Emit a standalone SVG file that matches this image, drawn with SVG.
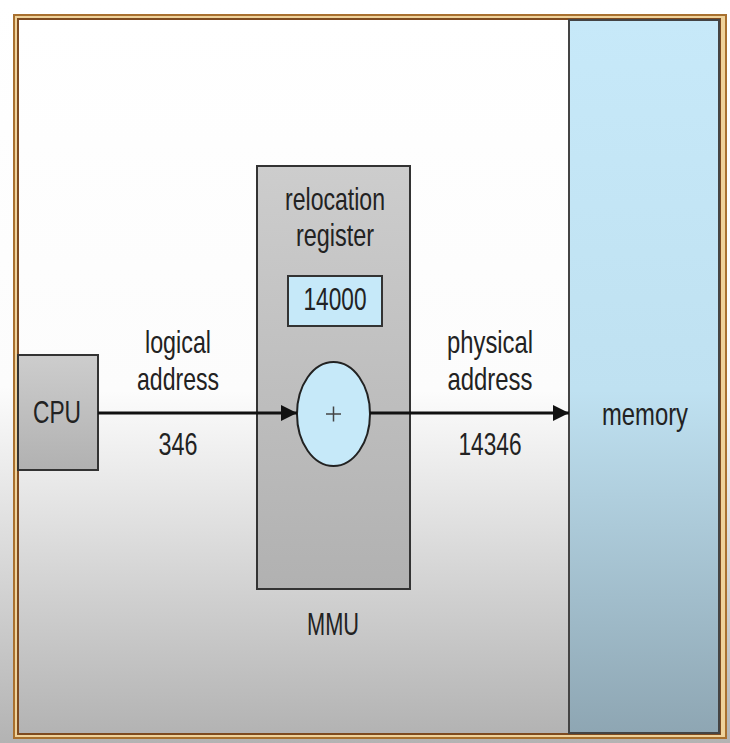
<svg xmlns="http://www.w3.org/2000/svg" width="730" height="743" viewBox="0 0 730 743">
<style>
text{font-family:"Liberation Sans",Arial,sans-serif;font-size:32px;fill:#222;text-anchor:middle}
.box{stroke:#333;stroke-width:2}
.conn{stroke:#111;stroke-width:3;fill:none}
</style>
<defs>
<linearGradient id="bg" x1="0" y1="0" x2="0" y2="1">
<stop offset="0" stop-color="#ffffff"/>
<stop offset="0.52" stop-color="#fcfcfc"/>
<stop offset="1" stop-color="#b3b3b3"/>
</linearGradient>
<linearGradient id="mem" x1="0" y1="0" x2="0" y2="1">
<stop offset="0" stop-color="#c7e9f9"/>
<stop offset="0.52" stop-color="#bfe1f1"/>
<stop offset="1" stop-color="#8ea6b3"/>
</linearGradient>
<linearGradient id="gray" x1="0" y1="0" x2="0" y2="1">
<stop offset="0" stop-color="#cdcdcd"/>
<stop offset="1" stop-color="#b1b1b1"/>
</linearGradient>
<marker id="ah" viewBox="0 0 16 16" refX="16" refY="8" markerWidth="16" markerHeight="16" markerUnits="userSpaceOnUse" orient="auto">
<path d="M0,0 L16,8 L0,16 z" fill="#111"/>
</marker>
</defs>
<rect x="0" y="0" width="730" height="743" fill="url(#bg)"/>
<g id="frame">
<rect x="13" y="14" width="714" height="725" fill="#a8702f"/>
<rect x="15" y="16" width="710" height="721" fill="#efd29a"/>
<rect x="17" y="18" width="704" height="717" fill="#7e4b20"/>
<rect x="19" y="20" width="700" height="713" fill="url(#bg)"/>
</g>
<g id="memory">
<rect x="569" y="20" width="150" height="713" fill="url(#mem)" stroke="#444" stroke-width="2"/>
<text x="645" y="425" textLength="86" lengthAdjust="spacingAndGlyphs">memory</text>
</g>
<g id="cpu">
<rect class="box" x="18" y="355" width="80" height="115" fill="url(#gray)"/>
<text x="57" y="423" textLength="48" lengthAdjust="spacingAndGlyphs">CPU</text>
</g>
<g id="mmu">
<rect class="box" x="257" y="166" width="153" height="423" fill="url(#gray)"/>
<text x="335" y="210" textLength="100" lengthAdjust="spacingAndGlyphs">relocation</text>
<text x="335" y="246" textLength="78" lengthAdjust="spacingAndGlyphs">register</text>
<text x="333" y="635" textLength="52" lengthAdjust="spacingAndGlyphs">MMU</text>
</g>
<g id="register">
<rect class="box" x="288" y="276" width="94" height="50" fill="#c6e9f9"/>
<text x="335" y="310" textLength="63" lengthAdjust="spacingAndGlyphs">14000</text>
</g>
<g id="adder">
<ellipse cx="333.5" cy="414" rx="36.5" ry="52" fill="#c6e9f9" stroke="#222" stroke-width="2"/>
<path d="M326,414 H341 M333.5,406.5 V421.5" stroke="#444" stroke-width="1.5"/>
</g>
<g id="connectors">
<line class="conn" x1="98" y1="413" x2="297" y2="413" marker-end="url(#ah)"/>
<line class="conn" x1="370" y1="413" x2="569" y2="413" marker-end="url(#ah)"/>
</g>
<g id="labels">
<text x="178" y="353" textLength="66" lengthAdjust="spacingAndGlyphs">logical</text>
<text x="178" y="390" textLength="82" lengthAdjust="spacingAndGlyphs">address</text>
<text x="178" y="455" textLength="39" lengthAdjust="spacingAndGlyphs">346</text>
<text x="490" y="353" textLength="86" lengthAdjust="spacingAndGlyphs">physical</text>
<text x="490" y="390" textLength="85" lengthAdjust="spacingAndGlyphs">address</text>
<text x="490" y="455" textLength="63" lengthAdjust="spacingAndGlyphs">14346</text>
</g>
</svg>
